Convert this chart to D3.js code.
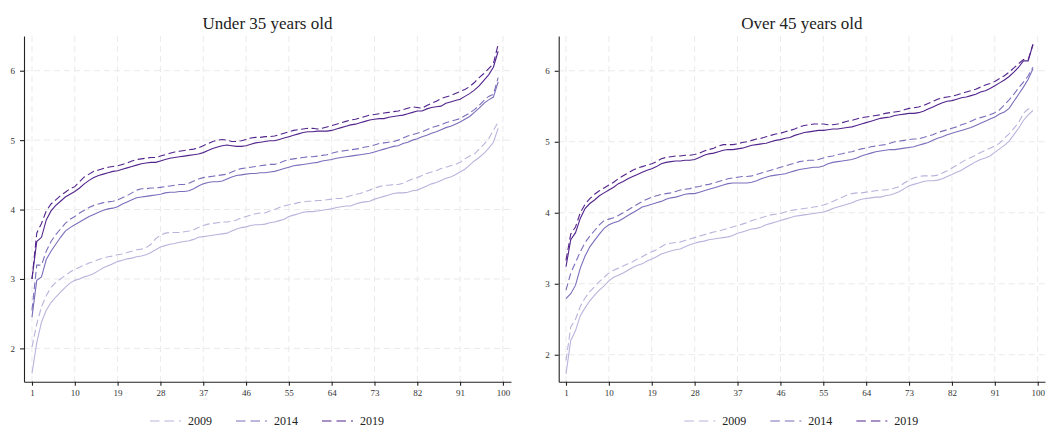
<!DOCTYPE html>
<html>
<head>
<meta charset="utf-8">
<title>Percentile profiles by age group</title>
<script src="https://cdn.jsdelivr.net/npm/d3@7"></script>
<style>
  body { margin: 0; background: #fff; }
  svg { display: block; font-family: "Liberation Serif", "DejaVu Serif", serif; }
  .grid line { stroke: #eaeaea; stroke-width: 1; stroke-dasharray: 6,4; }
  .axis path, .axis line { stroke: #222; stroke-width: 1.1; }
  .axis text { fill: #333; font-size: 9px; font-family: "Liberation Serif", serif; }
  .title { font-size: 17px; fill: #222; }
  .legend text { font-size: 12px; fill: #222; }
  .series { fill: none; stroke-width: 1.1; }
</style>
</head>
<body>
<div id="chart"></div>
<script>
// categories and tick labels
var percentiles = d3.range(1, 100);
var xTickValues = [1, 10, 19, 28, 37, 46, 55, 64, 73, 82, 91, 100];
var yTickValues = [2, 3, 4, 5, 6];
var years = ["2009", "2014", "2019"];
var panelTitles = ["Under 35 years old", "Over 45 years old"];

// Under 35 years old
var u35_2009_solid = [
  1.64, 2.08, 2.38, 2.55, 2.66, 2.74, 2.81, 2.88, 2.94, 2.98,
  3.00, 3.03, 3.05, 3.08, 3.12, 3.16, 3.19, 3.22, 3.25, 3.27,
  3.29, 3.30, 3.32, 3.33, 3.35, 3.38, 3.42, 3.46, 3.48, 3.50,
  3.51, 3.53, 3.54, 3.55, 3.57, 3.60, 3.61, 3.62, 3.63, 3.64,
  3.65, 3.66, 3.69, 3.72, 3.74, 3.75, 3.77, 3.78, 3.78, 3.79,
  3.81, 3.82, 3.84, 3.86, 3.90, 3.92, 3.94, 3.96, 3.97, 3.97,
  3.98, 3.99, 4.00, 4.01, 4.03, 4.04, 4.05, 4.05, 4.08, 4.10,
  4.11, 4.12, 4.15, 4.17, 4.19, 4.21, 4.23, 4.24, 4.24, 4.25,
  4.27, 4.28, 4.31, 4.34, 4.37, 4.39, 4.42, 4.45, 4.47, 4.50,
  4.54, 4.58, 4.64, 4.70, 4.75, 4.81, 4.88, 4.97, 5.17];
var u35_2009_dashed = [
  2.02, 2.35, 2.60, 2.76, 2.88, 2.95, 3.00, 3.05, 3.10, 3.14,
  3.17, 3.20, 3.23, 3.25, 3.28, 3.30, 3.32, 3.33, 3.35, 3.36,
  3.38, 3.40, 3.42, 3.43, 3.45, 3.50, 3.58, 3.63, 3.66, 3.67,
  3.67, 3.67, 3.68, 3.69, 3.71, 3.74, 3.77, 3.79, 3.80, 3.81,
  3.82, 3.82, 3.83, 3.85, 3.88, 3.90, 3.92, 3.94, 3.95, 3.95,
  3.98, 4.00, 4.03, 4.05, 4.07, 4.08, 4.10, 4.11, 4.12, 4.12,
  4.13, 4.13, 4.14, 4.15, 4.16, 4.16, 4.18, 4.20, 4.22, 4.23,
  4.26, 4.28, 4.31, 4.33, 4.35, 4.35, 4.36, 4.36, 4.38, 4.41,
  4.44, 4.46, 4.49, 4.52, 4.54, 4.56, 4.59, 4.61, 4.63, 4.65,
  4.68, 4.73, 4.77, 4.80, 4.87, 4.94, 5.02, 5.14, 5.26];
var u35_2014_solid = [
  2.45, 2.98, 3.03, 3.28, 3.40, 3.50, 3.60, 3.69, 3.74, 3.78,
  3.82, 3.86, 3.90, 3.93, 3.96, 3.99, 4.01, 4.02, 4.04, 4.08,
  4.11, 4.14, 4.17, 4.18, 4.19, 4.20, 4.21, 4.22, 4.24, 4.25,
  4.25, 4.26, 4.26, 4.27, 4.30, 4.34, 4.37, 4.39, 4.40, 4.40,
  4.41, 4.44, 4.47, 4.49, 4.50, 4.51, 4.52, 4.52, 4.53, 4.53,
  4.54, 4.55, 4.57, 4.59, 4.61, 4.63, 4.64, 4.65, 4.66, 4.67,
  4.68, 4.70, 4.71, 4.72, 4.74, 4.75, 4.76, 4.77, 4.78, 4.79,
  4.80, 4.81, 4.83, 4.85, 4.87, 4.89, 4.91, 4.92, 4.95, 4.97,
  5.00, 5.02, 5.05, 5.07, 5.10, 5.12, 5.15, 5.18, 5.20, 5.23,
  5.26, 5.30, 5.34, 5.40, 5.46, 5.53, 5.58, 5.62, 5.84];
var u35_2014_dashed = [
  2.55, 3.20, 3.20, 3.40, 3.54, 3.64, 3.72, 3.80, 3.86, 3.90,
  3.95, 3.99, 4.03, 4.06, 4.08, 4.10, 4.11, 4.12, 4.14, 4.17,
  4.20, 4.24, 4.28, 4.30, 4.30, 4.31, 4.31, 4.32, 4.33, 4.34,
  4.35, 4.36, 4.36, 4.38, 4.41, 4.44, 4.46, 4.47, 4.48, 4.49,
  4.50, 4.51, 4.54, 4.57, 4.59, 4.60, 4.61, 4.62, 4.63, 4.64,
  4.65, 4.65, 4.67, 4.70, 4.72, 4.73, 4.74, 4.75, 4.76, 4.76,
  4.77, 4.78, 4.79, 4.81, 4.83, 4.84, 4.85, 4.86, 4.87, 4.88,
  4.90, 4.91, 4.93, 4.95, 4.96, 4.97, 4.98, 5.00, 5.03, 5.06,
  5.08, 5.10, 5.12, 5.15, 5.18, 5.20, 5.22, 5.25, 5.27, 5.29,
  5.31, 5.35, 5.39, 5.44, 5.50, 5.57, 5.63, 5.66, 5.90];
var u35_2019_solid = [
  3.00, 3.54, 3.60, 3.85, 3.98, 4.06, 4.12, 4.18, 4.22, 4.26,
  4.31, 4.37, 4.42, 4.46, 4.49, 4.51, 4.53, 4.55, 4.56, 4.58,
  4.60, 4.62, 4.64, 4.66, 4.67, 4.68, 4.68, 4.70, 4.72, 4.74,
  4.75, 4.76, 4.77, 4.78, 4.79, 4.80, 4.82, 4.85, 4.88, 4.90,
  4.92, 4.93, 4.92, 4.91, 4.91, 4.92, 4.94, 4.96, 4.97, 4.98,
  4.99, 4.99, 5.01, 5.03, 5.05, 5.07, 5.09, 5.11, 5.12, 5.12,
  5.13, 5.13, 5.13, 5.14, 5.16, 5.18, 5.20, 5.22, 5.23, 5.25,
  5.27, 5.29, 5.30, 5.31, 5.31, 5.33, 5.34, 5.35, 5.36, 5.38,
  5.40, 5.42, 5.42, 5.45, 5.47, 5.48, 5.49, 5.53, 5.55, 5.57,
  5.59, 5.63, 5.67, 5.72, 5.78, 5.86, 5.94, 6.05, 6.28];
var u35_2019_dashed = [
  3.00, 3.66, 3.80, 3.98, 4.08, 4.14, 4.20, 4.25, 4.30, 4.33,
  4.40, 4.47, 4.51, 4.55, 4.57, 4.59, 4.61, 4.62, 4.63, 4.65,
  4.67, 4.70, 4.72, 4.73, 4.74, 4.75, 4.75, 4.77, 4.79, 4.81,
  4.83, 4.84, 4.85, 4.86, 4.87, 4.89, 4.92, 4.95, 4.98, 5.00,
  5.01, 5.00, 4.98, 4.98, 4.99, 5.01, 5.03, 5.04, 5.04, 5.05,
  5.05, 5.06, 5.08, 5.10, 5.12, 5.14, 5.15, 5.16, 5.17, 5.17,
  5.16, 5.17, 5.19, 5.21, 5.23, 5.25, 5.27, 5.29, 5.30, 5.32,
  5.34, 5.36, 5.37, 5.38, 5.39, 5.40, 5.41, 5.42, 5.44, 5.46,
  5.48, 5.47, 5.46, 5.50, 5.53, 5.56, 5.60, 5.62, 5.64, 5.67,
  5.70, 5.73, 5.77, 5.83, 5.90, 5.96, 6.03, 6.10, 6.38];

// Over 45 years old
var o45_2009_solid = [
  1.73, 2.20, 2.34, 2.55, 2.66, 2.76, 2.84, 2.91, 2.97, 3.04,
  3.09, 3.12, 3.15, 3.19, 3.23, 3.26, 3.28, 3.32, 3.35, 3.38,
  3.42, 3.44, 3.46, 3.48, 3.49, 3.52, 3.55, 3.57, 3.59, 3.60,
  3.62, 3.63, 3.64, 3.65, 3.66, 3.68, 3.71, 3.73, 3.75, 3.77,
  3.78, 3.80, 3.83, 3.85, 3.87, 3.89, 3.91, 3.93, 3.95, 3.96,
  3.97, 3.98, 3.99, 4.00, 4.01, 4.03, 4.06, 4.08, 4.10, 4.12,
  4.14, 4.17, 4.19, 4.20, 4.21, 4.22, 4.22, 4.24, 4.25, 4.27,
  4.30, 4.34, 4.38, 4.40, 4.42, 4.44, 4.45, 4.45, 4.46, 4.48,
  4.51, 4.54, 4.57, 4.60, 4.64, 4.68, 4.72, 4.75, 4.77, 4.80,
  4.85, 4.90, 4.95, 5.01, 5.10, 5.19, 5.30, 5.38, 5.44];
var o45_2009_dashed = [
  1.92, 2.39, 2.50, 2.68, 2.80, 2.89, 2.96, 3.03, 3.09, 3.15,
  3.19, 3.22, 3.25, 3.28, 3.31, 3.35, 3.38, 3.42, 3.45, 3.48,
  3.52, 3.56, 3.57, 3.58, 3.59, 3.61, 3.63, 3.65, 3.67, 3.69,
  3.71, 3.73, 3.74, 3.76, 3.78, 3.80, 3.82, 3.84, 3.86, 3.89,
  3.91, 3.93, 3.95, 3.97, 3.98, 3.99, 4.01, 4.03, 4.04, 4.05,
  4.06, 4.07, 4.08, 4.09, 4.11, 4.13, 4.16, 4.19, 4.22, 4.25,
  4.27, 4.28, 4.28, 4.29, 4.30, 4.31, 4.32, 4.32, 4.33, 4.35,
  4.37, 4.42, 4.46, 4.49, 4.51, 4.52, 4.52, 4.52, 4.53, 4.56,
  4.59, 4.63, 4.67, 4.71, 4.75, 4.78, 4.81, 4.85, 4.88, 4.91,
  4.94, 4.98, 5.05, 5.11, 5.19, 5.27, 5.40, 5.46, 5.47];
var o45_2014_solid = [
  2.79, 2.86, 2.98, 3.22, 3.39, 3.52, 3.61, 3.70, 3.78, 3.83,
  3.86, 3.88, 3.92, 3.96, 4.00, 4.04, 4.08, 4.10, 4.12, 4.14,
  4.16, 4.19, 4.21, 4.22, 4.24, 4.26, 4.27, 4.27, 4.29, 4.31,
  4.33, 4.35, 4.37, 4.39, 4.41, 4.42, 4.42, 4.42, 4.42, 4.43,
  4.45, 4.48, 4.50, 4.52, 4.53, 4.54, 4.55, 4.57, 4.59, 4.61,
  4.62, 4.63, 4.64, 4.64, 4.66, 4.69, 4.71, 4.72, 4.73, 4.74,
  4.75, 4.77, 4.80, 4.82, 4.84, 4.86, 4.87, 4.88, 4.89, 4.89,
  4.90, 4.91, 4.92, 4.93, 4.95, 4.97, 4.99, 5.02, 5.05, 5.07,
  5.10, 5.12, 5.14, 5.16, 5.18, 5.20, 5.23, 5.26, 5.29, 5.32,
  5.35, 5.39, 5.42, 5.47, 5.57, 5.67, 5.77, 5.88, 6.03];
var o45_2014_dashed = [
  2.91, 3.15, 3.30, 3.45, 3.58, 3.67, 3.75, 3.83, 3.89, 3.91,
  3.93, 3.96, 4.00, 4.04, 4.08, 4.12, 4.16, 4.19, 4.22, 4.24,
  4.26, 4.27, 4.28, 4.30, 4.32, 4.33, 4.34, 4.36, 4.37, 4.39,
  4.40, 4.42, 4.44, 4.46, 4.48, 4.49, 4.50, 4.51, 4.51, 4.52,
  4.54, 4.56, 4.58, 4.60, 4.62, 4.64, 4.66, 4.68, 4.70, 4.72,
  4.73, 4.74, 4.74, 4.75, 4.77, 4.79, 4.80, 4.82, 4.83, 4.85,
  4.86, 4.88, 4.90, 4.91, 4.93, 4.94, 4.95, 4.96, 4.98, 5.00,
  5.01, 5.02, 5.03, 5.04, 5.04, 5.06, 5.08, 5.10, 5.13, 5.15,
  5.17, 5.19, 5.21, 5.24, 5.26, 5.29, 5.32, 5.34, 5.36, 5.38,
  5.41, 5.45, 5.52, 5.59, 5.67, 5.76, 5.84, 5.93, 6.05];
var o45_2019_solid = [
  3.24, 3.62, 3.72, 3.92, 4.06, 4.13, 4.18, 4.24, 4.28, 4.32,
  4.36, 4.41, 4.44, 4.48, 4.51, 4.54, 4.57, 4.60, 4.62, 4.65,
  4.69, 4.71, 4.72, 4.73, 4.73, 4.74, 4.74, 4.75, 4.78, 4.81,
  4.83, 4.84, 4.86, 4.88, 4.89, 4.89, 4.90, 4.91, 4.93, 4.95,
  4.96, 4.97, 4.98, 5.00, 5.02, 5.03, 5.05, 5.06, 5.09, 5.11,
  5.13, 5.14, 5.15, 5.16, 5.16, 5.17, 5.18, 5.18, 5.19, 5.20,
  5.21, 5.23, 5.25, 5.27, 5.29, 5.31, 5.33, 5.34, 5.35, 5.37,
  5.38, 5.39, 5.40, 5.40, 5.41, 5.43, 5.46, 5.49, 5.52, 5.55,
  5.57, 5.58, 5.60, 5.62, 5.63, 5.65, 5.67, 5.70, 5.72, 5.75,
  5.79, 5.83, 5.87, 5.92, 5.98, 6.05, 6.14, 6.14, 6.37];
var o45_2019_dashed = [
  3.33, 3.70, 3.80, 4.00, 4.12, 4.20, 4.26, 4.31, 4.35, 4.39,
  4.43, 4.48, 4.52, 4.56, 4.60, 4.63, 4.65, 4.67, 4.69, 4.72,
  4.76, 4.78, 4.79, 4.80, 4.80, 4.81, 4.81, 4.82, 4.84, 4.87,
  4.89, 4.91, 4.94, 4.96, 4.96, 4.96, 4.97, 4.99, 5.00, 5.02,
  5.04, 5.05, 5.07, 5.09, 5.11, 5.12, 5.14, 5.16, 5.18, 5.21,
  5.23, 5.24, 5.25, 5.25, 5.25, 5.24, 5.24, 5.25, 5.27, 5.29,
  5.30, 5.32, 5.34, 5.35, 5.36, 5.37, 5.38, 5.40, 5.41, 5.42,
  5.43, 5.45, 5.47, 5.48, 5.49, 5.51, 5.54, 5.57, 5.60, 5.62,
  5.63, 5.64, 5.66, 5.68, 5.70, 5.72, 5.74, 5.77, 5.80, 5.82,
  5.85, 5.89, 5.93, 5.98, 6.04, 6.10, 6.16, 6.16, 6.37];

var yearColors = { "2009": "#b8b4dc", "2014": "#7a6fbb", "2019": "#52248c" };
var dashPattern = "7,3.5";

var width = 1047, height = 428;
var plotTop = 36, plotBottom = 381.7;

// pixel frame of each panel, and the padding Stata leaves around the data
var panels = [
  { title: panelTitles[0], left: 24, right: 511, xDomain: [-0.68, 101.7], yDomain: [1.52, 6.5],
    series: [
      { year: "2009", dashed: false, values: u35_2009_solid },
      { year: "2009", dashed: true, values: u35_2009_dashed },
      { year: "2014", dashed: false, values: u35_2014_solid },
      { year: "2014", dashed: true, values: u35_2014_dashed },
      { year: "2019", dashed: false, values: u35_2019_solid },
      { year: "2019", dashed: true, values: u35_2019_dashed }
    ] },
  { title: panelTitles[1], left: 558.7, right: 1045, xDomain: [-0.53, 101.53], yDomain: [1.62, 6.49],
    series: [
      { year: "2009", dashed: false, values: o45_2009_solid },
      { year: "2009", dashed: true, values: o45_2009_dashed },
      { year: "2014", dashed: false, values: o45_2014_solid },
      { year: "2014", dashed: true, values: o45_2014_dashed },
      { year: "2019", dashed: false, values: o45_2019_solid },
      { year: "2019", dashed: true, values: o45_2019_dashed }
    ] }
];

var svg = d3.select("#chart").append("svg")
    .attr("width", width)
    .attr("height", height);

panels.forEach(function(p) {
  var x = d3.scaleLinear().domain(p.xDomain).range([p.left, p.right]);
  var y = d3.scaleLinear().domain(p.yDomain).range([plotBottom, plotTop]);
  var g = svg.append("g");
  var center = (p.left + p.right) / 2;

  //grid
  var grid = g.append("g").attr("class", "grid");
  grid.selectAll(".vx").data(xTickValues).enter().append("line")
      .attr("x1", function(d) { return x(d); })
      .attr("x2", function(d) { return x(d); })
      .attr("y1", plotTop)
      .attr("y2", plotBottom);
  grid.selectAll(".hy").data(yTickValues).enter().append("line")
      .attr("x1", p.left)
      .attr("x2", p.right)
      .attr("y1", function(d) { return y(d); })
      .attr("y2", function(d) { return y(d); });

  //series
  var line = d3.line()
      .x(function(d, i) { return x(percentiles[i]); })
      .y(function(d) { return y(d); });

  g.selectAll(".series").data(p.series).enter().append("path")
      .attr("class", "series")
      .attr("d", function(d) { return line(d.values); })
      .attr("stroke", function(d) { return yearColors[d.year]; })
      .attr("stroke-dasharray", function(d) { return d.dashed ? dashPattern : null; });

  //axes
  g.append("g")
      .attr("class", "axis")
      .attr("transform", "translate(0," + plotBottom + ")")
      .call(d3.axisBottom(x).tickValues(xTickValues).tickSize(4).tickSizeOuter(0).tickPadding(4));

  g.append("g")
      .attr("class", "axis")
      .attr("transform", "translate(" + p.left + ",0)")
      .call(d3.axisLeft(y).tickValues(yTickValues).tickFormat(d3.format("d"))
        .tickSize(4).tickSizeOuter(0).tickPadding(5));

  //title
  g.append("text")
      .attr("class", "title")
      .attr("x", center)
      .attr("y", 29)
      .attr("text-anchor", "middle")
      .text(p.title);

  //legend
  var legend = g.append("g").attr("class", "legend");
  var item = legend.selectAll("g").data(years).enter().append("g")
      .attr("transform", function(d, i) { return "translate(" + (center - 117.5 + i * 86) + ",421)"; });
  item.append("line")
      .attr("x1", 0).attr("x2", 31)
      .attr("stroke", function(d) { return yearColors[d]; })
      .attr("stroke-width", 1.1)
      .attr("stroke-dasharray", "9.5,5");
  item.append("text")
      .attr("x", 38)
      .attr("y", 4)
      .text(function(d) { return d; });
});
</script>
</body>
</html>
